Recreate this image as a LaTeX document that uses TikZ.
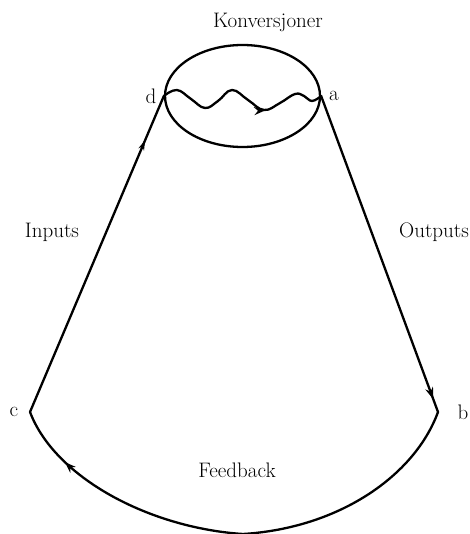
\documentclass[tikz,border=0pt]{standalone}
\usetikzlibrary{shapes.geometric,arrows.meta,decorations.markings}
\begin{document}
\begin{tikzpicture}[x=1pt,y=-1pt,
  ln/.style={line width=2.3pt,line cap=round,line join=round},
  lbl/.style={font=\fontsize{21}{25}\selectfont,inner sep=0pt},
  fillarrow/.style={decoration={markings,mark=at position #1 with {\arrow{Stealth[length=12pt,width=8pt]}}},postaction={decorate}},
  backarrow/.style={decoration={markings,mark=at position #1 with {\arrowreversed{Stealth[length=11pt,width=8pt]}}},postaction={decorate}},
  openarrow/.style={decoration={markings,mark=at position #1 with {\arrow{Stealth[open,length=10pt,width=6pt,line width=1.4pt]}}},postaction={decorate}}]
\useasboundingbox (0,0) rectangle (469,534);
\fill[white] (0,0) rectangle (469,534);
% conversion ellipse
\node[ellipse,draw,ln,minimum width=155pt,minimum height=102pt,inner sep=0pt] (conv) at (242.5,96) {};
\coordinate (d) at (conv.west);
\coordinate (a) at (conv.east);
\coordinate (c) at (30,412);
\coordinate (b) at (438,412);
\coordinate (bot) at (243,534);
% wavy conversion line
\draw[ln,fillarrow=0.66] plot[smooth,tension=0.7] coordinates {(d) (177,90) (191,99) (205,108) (218,101) (232,90) (248,100) (264,110) (280,103) (295,94) (304,96) (312,101) (a)};
% inputs and outputs
\draw[ln,openarrow=0.86] (c) -- (d);
\draw[ln,fillarrow=0.96] (a) -- (b);
% feedback
\draw[ln,backarrow=0.24] (c) .. controls (55,478) and (150,528) .. (bot);
\draw[ln] (bot) .. controls (340,528) and (415,475) .. (b);
% labels
\node[lbl] (tkonv) at (268,22) {Konversjoner};
\node[lbl] (td) at (151,96) {d};
\node[lbl] (ta) at (334,96) {a};
\node[lbl] (tin) at (52,232) {Inputs};
\node[lbl] (tout) at (434,232) {Outputs};
\node[lbl] (tc) at (14,412) {c};
\node[lbl] (tb) at (463,412) {b};
\node[lbl] (tfb) at (237,470) {Feedback};
\end{tikzpicture}
\end{document}
